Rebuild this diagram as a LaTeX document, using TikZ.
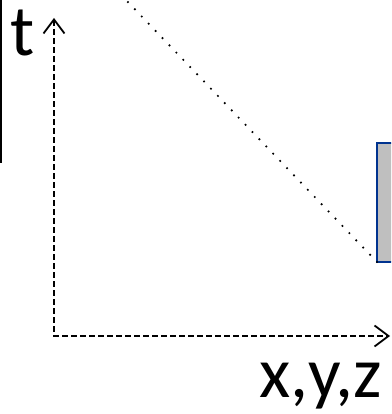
\documentclass[tikz,border=0pt]{standalone}
\usepackage{fontspec}
\setmainfont{Carlito}
\usetikzlibrary{arrows.meta}

\begin{document}
\begin{tikzpicture}[x=1pt, y=-1pt, axis/.style={{Straight Barb[length=14pt, width=21pt, line width=1.8pt]}-{Straight Barb[length=14pt, width=21pt, line width=1.8pt]}, line width=2.6pt, dash pattern=on 6pt off 3pt}, trace/.style={line width=2.4pt, line cap=round, dash pattern=on 0pt off 10pt}, block/.style={draw=blue!45!black!80!cyan, line width=2.5pt, fill=black!25}, axlabel/.style={font=\fontsize{72}{80}\selectfont, inner sep=0pt, anchor=base west}]

\useasboundingbox (0,0) rectangle (391,414); \clip (0,0) rectangle (391,414);
\draw[line width=2.5pt] (0.5,0) -- (0.5,163);
\draw[block] (377,143) rectangle (420,262); \coordinate (corner) at (377,262);
\coordinate (origin) at (54,336); \coordinate (tend) at (54,18); \coordinate (xend) at (390,336);
\draw[axis] (tend) -- (origin) -- (xend);
\node[axlabel] (tlabel) at (10,56) {t};
\node[axlabel] (xyzlabel) at (259,397) {x,y,z};
\draw[trace] (corner) -- (125,-1);
\end{tikzpicture}
\end{document}
